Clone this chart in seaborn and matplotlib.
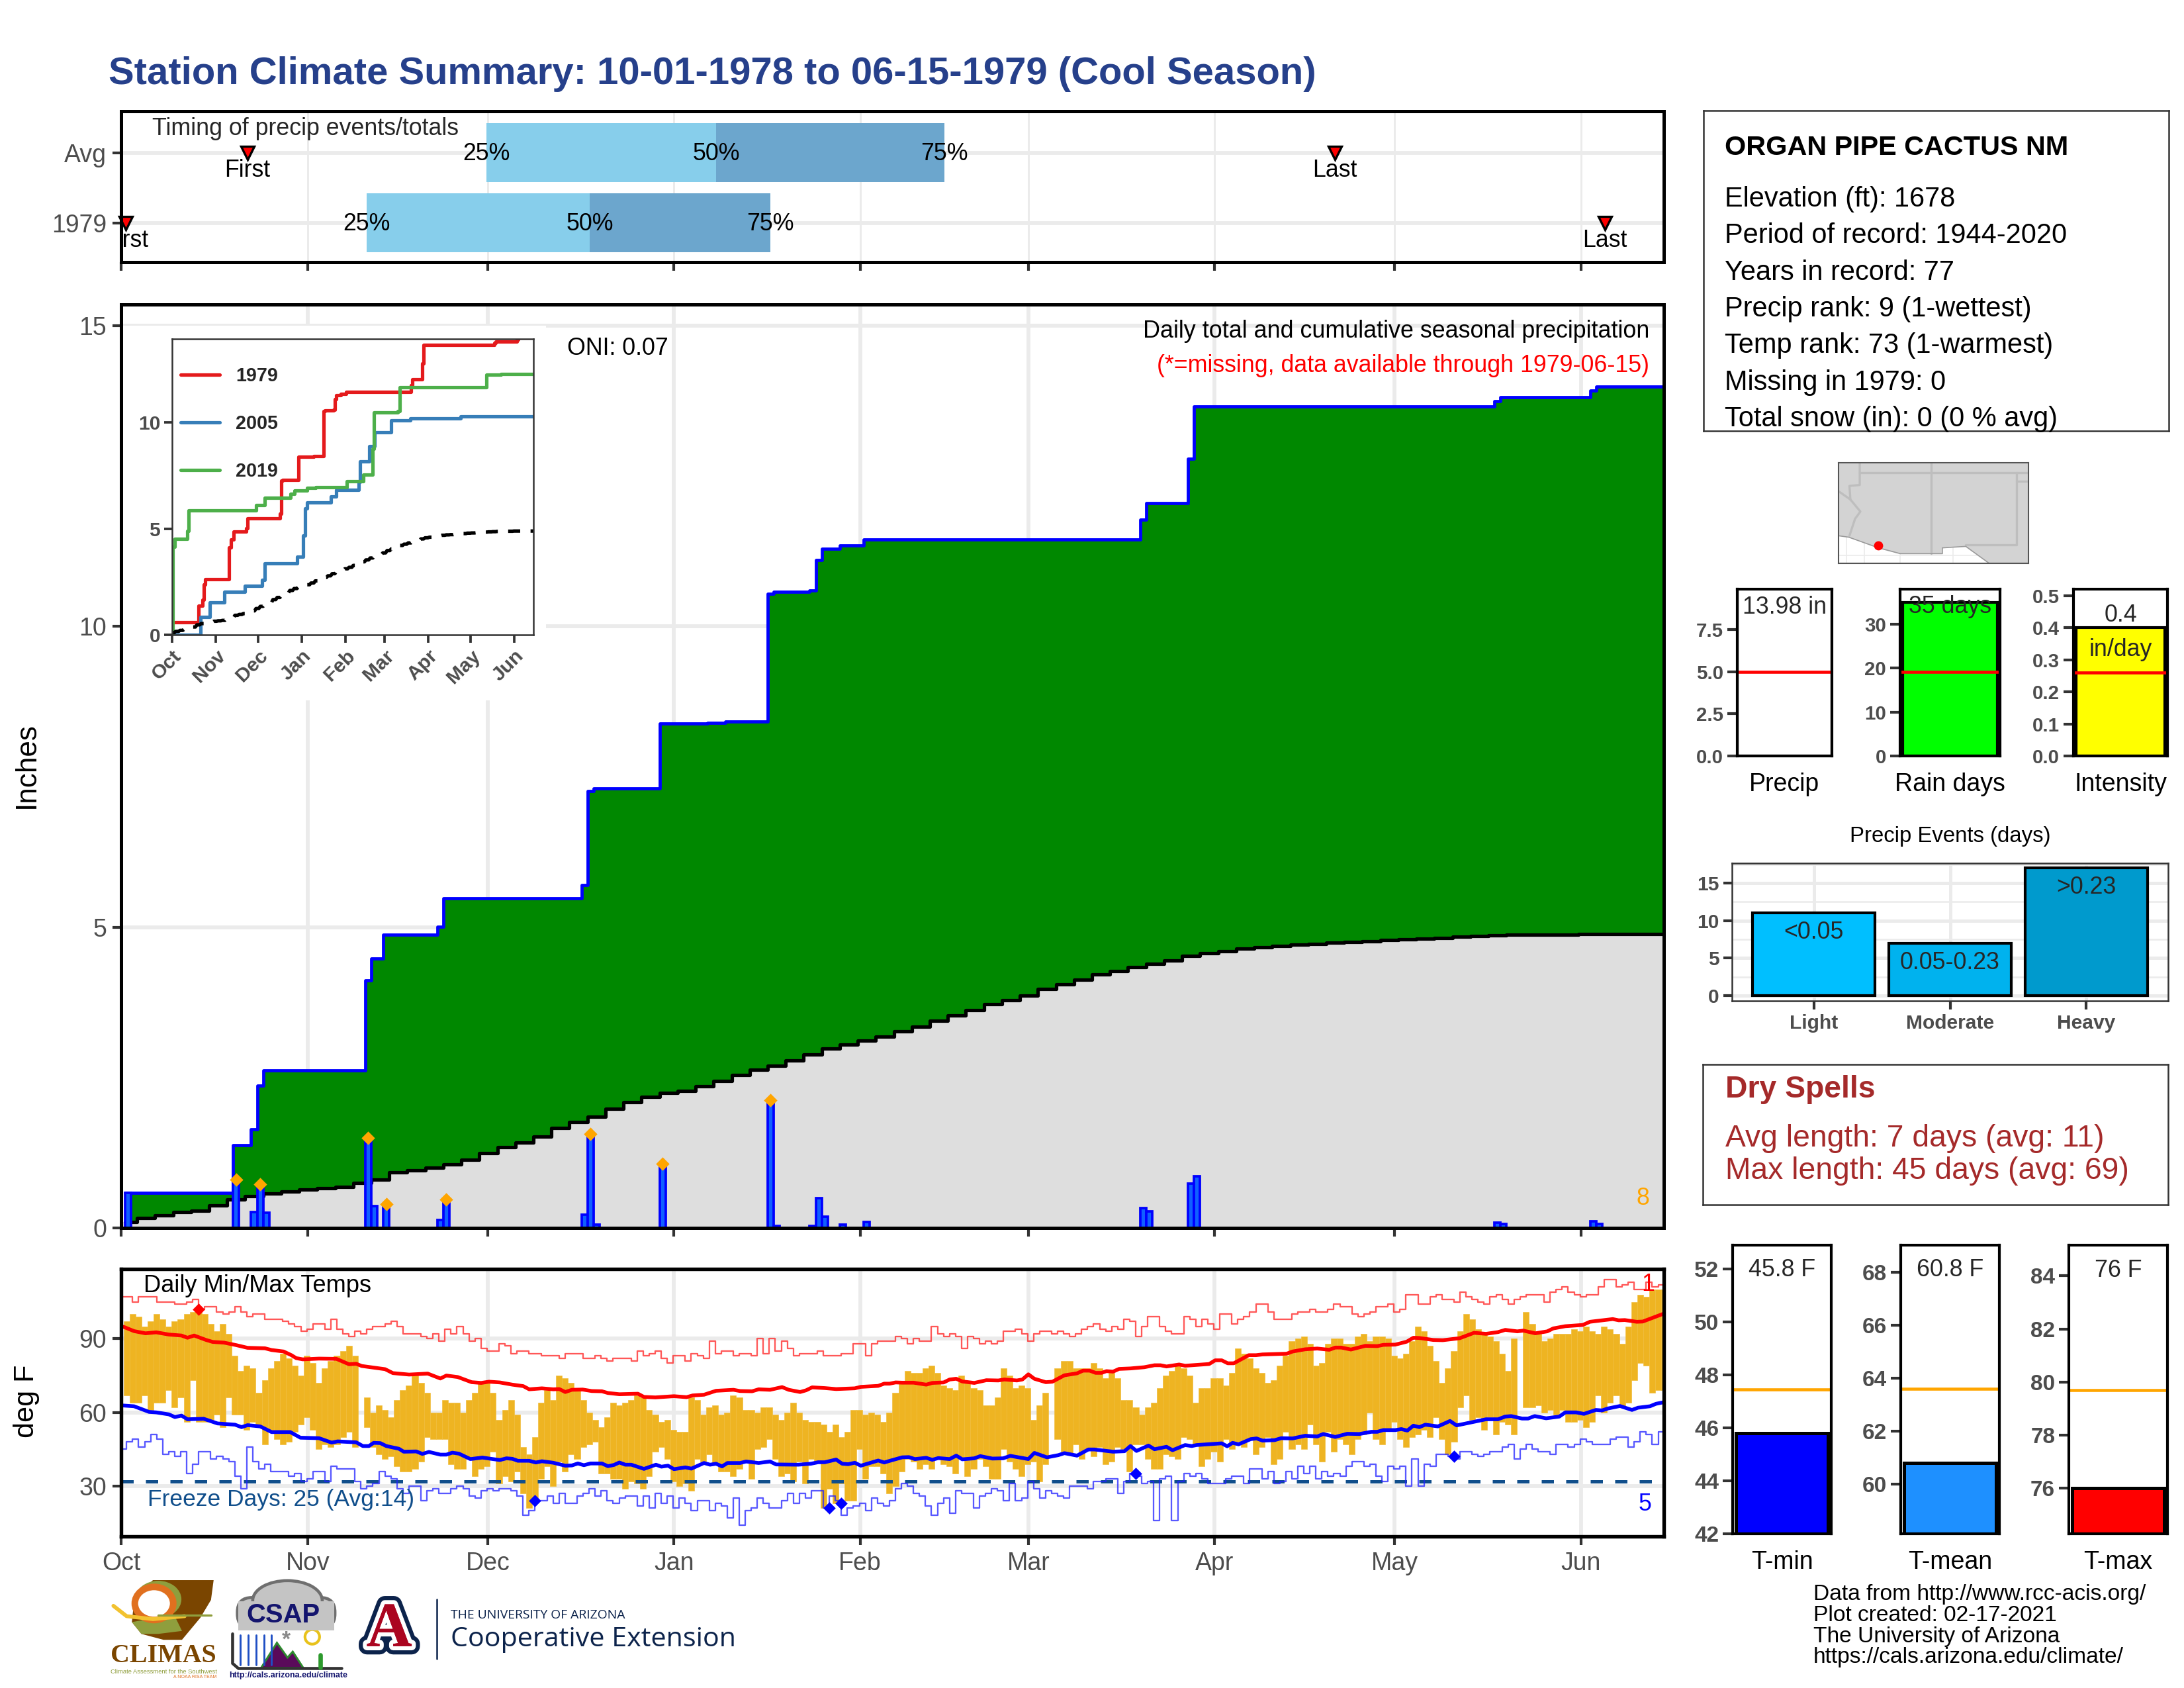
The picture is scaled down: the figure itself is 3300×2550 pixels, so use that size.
import numpy as np
import pandas as pd
import matplotlib
matplotlib.use("Agg")
import matplotlib.pyplot as plt
import matplotlib.patheffects as pe
from matplotlib.patches import Polygon, Rectangle, Ellipse, FancyBboxPatch, Circle
import seaborn as sns

nan = np.nan
W, H = 3300, 2550

# ---------- data ----------
month_names = ["Oct", "Nov", "Dec", "Jan", "Feb", "Mar", "Apr", "May", "Jun"]
month_days = [0, 31, 61, 92, 123, 151, 182, 212, 243]

timing_rows = ["Avg", "1979"]
q25 = [60.8, 40.8]
q50 = [99, 78]
q75 = [137, 108]
first_day = [21, 0.7]
last_day = [202, 247]

rain_day = [1, 19, 22, 23, 24, 41, 42, 44, 53, 54, 77, 78, 79, 90, 98, 101, 108, 109, 115, 116, 117, 120, 124,
            170, 171, 178, 179, 229, 230, 245, 246]
rain_amt = [.58, .80, .26, .73, .25, 1.50, .36, .40, .13, .47, .22, 1.56, .05, 1.07, .02, .02, 2.12, .03, .03, .50, .19, .05, .10,
            .33, .28, .74, .86, .09, .07, .11, .07]
big_day = [19, 23, 41, 44, 54, 78, 90, 108]

avg_cum = [.10, .16, .21, .26, .29, .37, .47, .53, .57, .60, .64, .66, .68, .75, .80, .92, .96, 1.00, 1.06, 1.13,
           1.24, 1.34, 1.42, 1.52, 1.66, 1.76, 1.85, 1.98, 2.09, 2.18, 2.24, 2.28, 2.36, 2.44, 2.54, 2.63, 2.70, 2.78, 2.88, 2.98,
           3.05, 3.11, 3.18, 3.27, 3.34, 3.44, 3.53, 3.62, 3.72, 3.78, 3.86, 3.97, 4.05, 4.13, 4.21, 4.27, 4.33, 4.39, 4.44, 4.52,
           4.57, 4.60, 4.64, 4.67, 4.69, 4.71, 4.72, 4.74, 4.75, 4.77, 4.79, 4.80, 4.81, 4.82, 4.84, 4.85, 4.86, 4.87, 4.87, 4.88,
           4.88, 4.89, 4.89, 4.89, 4.89, 4.89]

y2005_day = [0, 20, 26.7, 37, 51.6, 64, 65.7, 88.8, 93, 94.5, 95.7, 112.8, 116.7, 132.6, 133.5, 140, 143.7, 155.7, 169, 205, 257]
y2005_val = [0, .84, 1.54, 2.03, 2.31, 2.6, 3.38, 3.68, 4.68, 5.97, 6.23, 6.52, 6.83, 7.2, 8.17, 8.88, 9.55, 10.1, 10.19, 10.28, 10.28]
y2019_day = [0, .6, 1.8, 10.8, 11.7, 59.7, 65.7, 84.3, 86.7, 95.7, 102, 124, 135.6, 142.2, 143.4, 160, 161.4, 223, 233.7, 257]
y2019_val = [0, 4.16, 4.53, 4.9, 5.87, 6.1, 6.46, 6.65, 6.81, 6.93, 6.96, 7.25, 7.56, 8.75, 10.48, 10.53, 11.65, 12.27, 12.3, 12.3]

tmax = [97,100,99,95,97,100,98,95,97,98, 100,101,101,100,96,93,96,92,83,77, 79,78,68,73,78,81,84,82,79,75,
        83,80,72,78,81,83,85,87,83,nan, 66,60,63,61,58,65,69,71,75,72, 68,60,60,65,64,64,60,65,68,72,
        72,68,57,61,65,59,46,43,50,64, 69,65,75,74,72,69,65,60,57,54, 58,64,63,64,65,67,66,61,59,56,
        57,53,52,52,66,65,59,62,63,59, 60,67,66,61,61,60,62,62,59,57, 60,64,60,57,56,56,55,52,55,50,
        52,61,61,59,60,59,56,60,68,72, 77,76,76,78,79,76,71,70,69,75, 72,70,69,63,63,66,78,75,70,71,
        70,57,63,68,nan,78,81,81,78,78, 78,80,78,74,76,74,65,65,62,59, 62,64,70,75,77,79,78,75,64,70,
        70,74,74,71,76,86,84,82,78,76, 72,73,79,83,89,90,91,88,79,80, 88,90,90,88,88,91,92,89,91,91,
        90,83,82,84,89,95,93,87,81,72, 78,85,93,100,98,94,92,91,89,84, 77,90,nan,101,96,92,89,90,92,92,
        92,94,93,95,93,92,95,94,92,88, 95,105,108,107,110,110,110]
tmin = [67,64,64,67,61,64,64,69,62,66, 56,73,56,56,57,59,54,66,59,59, 53,56,54,47,52,49,47,48,52,55,
        58,53,45,47,46,47,50,52,46,nan, 54,46,43,41,42,38,36,36,37,40, 50,49,49,49,39,37,37,41,34,37,
        38,44,31,34,32,36,27,21,25,33, 38,30,40,36,43,41,46,47,48,35, 35,33,33,29,32,31,29,34,44,46,
        41,32,30,31,28,41,40,43,39,36, 36,34,37,40,33,45,46,49,41,34, 35,32,40,31,41,40,21,29,23,31,
        24,24,45,33,38,38,35,27,30,36, 41,40,37,39,37,41,39,38,35,41, 34,37,41,38,33,33,45,40,37,34,
        39,40,32,39,nan,49,44,43,47,41, 45,42,46,39,40,46,45,36,47,47, 41,37,37,43,42,41,50,49,47,38,
        41,44,40,49,45,48,46,49,43,46, 50,39,41,52,45,47,45,55,47,40, 52,44,49,47,43,49,51,60,49,47,
        53,56,49,46,50,51,53,50,58,49, 43,48,62,67,57,58,53,58,51,56, 55,51,nan,62,62,63,60,61,59,61,
        56,56,57,54,56,67,60,64,67,62, 64,73,80,79,68,69,69]

rec_max = [107,107,105,107,107,107,105,105,105,104, 104,105,106,102,103,103,101,100,101,103, 101,99,100,100,98,98,98,97,96,95,
           93,94,96,96,94,98,94,92,91,93, 92,94,95,95,96,97,95,92,92,92, 91,90,92,89,94,92,95,92,89,90, 86,85,85,88,87,
           84,85,85,84,84,83,83,83,82,84, 84,84,82,82,83,82,81,82,82,82, 81,85,83,84,85,82,80,83,83,81,
           84,83,82,89,84,85,85,83,84,84, 83,90,84,90,85,89,86,83,84,84, 84,85,83,83,83,84,84,88,88,83, 88,89,89,89,91,
           90,88,90,89,89,95,92,91,92,91, 86,91,90,88,89,88,89,93,93,94, 92,89,92,93,93,92,93,92,91,92,
           94,95,96,94,93,95,94,98,97,91, 95,99,99,95,93,92,92,99,98,95, 98,96,94,100,100,96,98,99,101,104, 104,101,98,98,98,
           100,101,101,102,101,101,102,104,103,103, 100,99,100,101,103,103,104,101,102,108, 108,104,104,107,108,106,106,105,109,107,
           106,105,104,107,108,106,104,106,107,108, 108,108,105,109,110,111,109,108,107,108, 108,111,114,114,111,112,113,110,110,113, 111,112,112]
rec_min = [45,48,49,46,48,51,49,43,44,42, 44,35,39,44,44,41,42,41,40,34, 29,46,40,37,39,36,36,36,34,35,
           32,33,36,36,32,38,37,37,37,32, 29,30,31,36,34,33,29,27,30,30, 24,28,29,27,27,29,30,29,26,25, 28,29,28,29,29,
           28,26,18,20,24,24,26,23,27,23, 23,26,27,29,26,28,24,23,25,26, 26,22,26,21,27,23,26,21,25,23,
           20,24,24,20,23,22,17,25,14,20, 21,25,23,21,21,24,27,23,27,25, 28,28,21,26,24,18,21,22,23,20, 25,23,22,24,29,
           31,30,27,26,22,18,23,25,19,28, 27,27,21,26,27,29,28,24,31,24, 25,32,29,25,28,27,26,25,30,30,
           30,29,32,32,33,33,27,32,35,34, 31,32,16,33,34,16,32,35,34,35, 33,31,31,31,33,34,34,31,37,37, 33,36,31,32,36,
           33,38,35,38,33,36,34,35,34,38, 40,40,38,39,34,32,38,37,38,30, 41,30,39,38,43,43,42,41,44,44,
           43,42,43,44,44,46,47,41,45,47, 45,44,44,43,47,47,46,47,49,48, 47,47,47,49,50,50,46,48,52,51, 47,52,52]

avg_max_day = [.3,2.1,4,5.8,7.9,10,11,12.1,14.1,15.2,17.1,19.1,21,23.9,25,27,28.3,29.1,30.2,32.9,35.8,37.9,39.1,40,43.9,45.2,47.9,51,53.1,54.1,56,58.3,59.9,61.2,63,65.1,
               66.9,67.9,70,71.9,72.9,73.9,75,76.8,78.3,80,81,82.9,86,87,88.9,92,94.1,95.1,97,99,101.9,103,105,106.1,108,110,111.1,113,114,115,117.1,119,122.1,123.1,126,127,127.9,128.9,130,
               131.9,134,135,136.9,137.9,139,140,142,144,146,147,149.1,150,151,152,153.9,155,157,159.1,160.1,161.2,162.2,163.2,164,165.1,166.1,168,170.3,172,173,174,176.1,177.1,181.1,182.1,183.2,184.2,185.2,187.7,188.9,190,194,195,
               197.1,199.1,201.1,202.1,203.1,204.7,207.1,209.1,210.1,212.1,214,215.1,216.1,218.4,220,222.8,225.2,227.2,229.2,230.4,232.4,233.4,235.4,237.4,238.4,240.4,243.3,244.5,248.3,249.3,250.3,252.3,253.3,257.1]
avg_max_val = [94.9,93.1,92.2,92.6,91.7,91.3,90.4,91.3,89.5,88.7,88.4,87.4,86.3,86.1,85.4,84.8,83.3,82.1,81.6,81.9,81.8,79.6,79.8,78.9,77.6,76,75.4,75.8,73.8,75,74.4,72.3,72,72.5,72.2,71.3,
               70.7,69.4,69.8,69.4,69.5,68.3,69.2,69.3,68.7,68.6,67.9,67.4,67.6,66.3,66.1,66.6,66.2,66.9,67.2,68.8,69.2,68.7,68.6,69.4,69.2,70.3,69.2,68.3,69,70.2,69.9,69.5,69.8,70.4,70.8,71.7,71.7,72.2,72.1,
               72.1,71.3,72,72.2,73.4,73.7,72.6,72,73.1,73,73.4,73,73.4,75.5,73.7,72.3,72.5,75.1,75.9,77,77,76.1,76.1,76.8,76.6,77.7,77.9,78.4,79.2,79.2,78.7,79.5,79,79.7,81.2,81.2,80,80,83.3,83.3,83.6,83.9,84.8,
               85.7,86,85.5,86.4,86.4,85.6,87.1,87,87.5,87.6,88.8,90.4,90.3,89.5,89.4,90.2,92.4,92,92.7,93.6,93,93.3,92.2,93,94.2,95.1,95.6,96.9,98,97.5,97.6,96.9,97,100.5]
avg_min_day = [.3,2.1,4.6,5.8,7.9,8.9,10,11,13.7,16,18.9,20,21,23.1,25,28.1,29.8,32.9,35,36,39.1,40.2,41.2,42,43.1,44.1,46.2,47,49.1,50.1,51.2,53.1,54.1,55.1,56.2,58.1,60.1,63,64.1,65.1,
               66,67.9,69,70,71.9,73.9,75,76,77,78.1,80,81,82,82.9,83.9,84.9,87,89,89.9,91,92,93.9,94.9,97,98,99,100,100.9,103,104,106.1,108,109,112.7,114.8,116,117.1,119,120,121,122.1,123.1,126,127,128.1,130,
               131.1,132.1,134,135,136,137.9,139,140,142,143,145,146.8,148,151,152,154.1,156,157,159.1,161,162,165.1,167,168,169,171,172,174,175,177.1,178.2,179,183.2,184.1,185,186,188,189,190,192,193.1,195,
               197.1,199.1,200.1,202.1,204.1,206.1,208.1,209.1,210.1,212.1,213.1,214.1,215.1,216.1,217.1,219.2,221.2,222.3,227.2,229.2,230.4,231.4,233.2,234.2,235.3,237.2,239.4,240.4,242.2,243.5,245.5,246.5,247.5,249.5,251.5,252.5,254.5,255.5,257.1]
avg_min_val = [62.8,62.5,60.2,60,59.2,58.1,58.7,57.2,57.4,55.5,55,54,54.8,54.3,52,52,49.7,49.5,47.7,48.2,47.8,46.3,46.3,47.6,47.5,46.3,45.2,44,44.1,43.1,43.9,42.8,42.8,43.6,43.2,41,41.6,40.6,41.3,41.1,
               40.3,40.3,39.6,40.1,39.5,38.3,38.4,39.2,38.5,39.2,39.2,38.1,38.6,39.6,38.7,38.7,37,38.7,37.9,38.3,36.9,37.6,37.1,39.4,38.7,39.1,38,39.4,39.4,40,39.4,40,38.8,38.7,39.1,39.7,39.7,40.8,39.1,38.9,39.5,38.3,40.4,39.6,40.4,41.7,
               41.8,41,41.5,40.7,41.4,41,42.4,40.9,41.3,42.2,41.2,41.3,42.3,41,43.5,41.7,42.6,43.4,42.4,44.9,44.9,44,44.2,46.3,44.3,46.5,45,46,44.6,46.7,46.3,46.7,47.4,46.2,47.6,47,49.1,49.4,48.5,48.7,49.5,49.4,
               50.5,50.2,51.2,50,51.3,51.2,52.1,52.1,52.8,52.8,53.2,52.6,54.6,54,55,54.3,56.5,54.7,57.2,57.2,58.3,58.5,57.5,57.5,58.5,57.6,58.3,60,60,59.4,61,60.8,61.6,62.6,61,61.9,62.5,63.5,64.3]
hot_idx = [12]
hot_val = [102]
cold_idx = [68, 117, 119, 168, 221]
cold_val = [24, 21, 23, 35, 42]

event_cats = ["Light", "Moderate", "Heavy"]
event_vals = [11, 7, 17]
event_labels = ["<0.05", "0.05-0.23", ">0.23"]
event_colors = ["#00bfff", "#00b2ee", "#009acd"]

info_lines = ["Elevation (ft): 1678", "Period of record: 1944-2020", "Years in record: 77",
              "Precip rank: 9 (1-wettest)", "Temp rank: 73 (1-warmest)", "Missing in 1979: 0", "Total snow (in): 0 (0 % avg)"]

# ---------- theme ----------
sns.set_theme(style="white")
plt.rcParams["font.family"] = ["Liberation Sans", "DejaVu Sans"]
plt.rcParams["axes.unicode_minus"] = False
GRID = "#ebebeb"
TICKC = "#4d4d4d"
GRIDLW = 1.4

fig = plt.figure(figsize=(11, 8.5), dpi=300, facecolor="white")


def axpx(l, t, r, b, **kw):
    t, b = t + 2, b + 2
    return fig.add_axes([l / W, 1 - b / H, (r - l) / W, (b - t) / H], **kw)


def T(x, y, s, **kw):
    kw.setdefault("va", "center")
    kw.setdefault("ha", "left")
    kw.setdefault("color", "black")
    kw.setdefault("fontsize", 8)
    return fig.text(x / W, 1 - (y + 4) / H, s, **kw)


def frame(ax, lw=1.2, color="black"):
    for s in ax.spines.values():
        s.set_visible(True)
        s.set_linewidth(lw)
        s.set_edgecolor(color)
        s.set_zorder(10)


XL = (-0.05, 256.8)


def month_axis(ax, labels=False):
    ax.set_xlim(*XL)
    ax.set_xticks(month_days)
    ax.set_xticklabels(month_names if labels else [])
    ax.tick_params(axis="x", length=3.2, width=1.0, color="#333333", labelsize=9, labelcolor=TICKC, pad=2.2, bottom=True)
    ax.tick_params(axis="y", length=3.2, width=1.0, color="#333333", labelsize=9, labelcolor=TICKC, pad=2, left=True)
    ax.grid(True, color=GRID, lw=GRIDLW)
    ax.set_axisbelow(True)
    ax.set_xlabel("")
    ax.set_ylabel("")


T(164, 108, "Station Climate Summary: 10-01-1978 to 06-15-1979 (Cool Season)", fontsize=13.93, fontweight="bold", color="#26408b")

# ---------- timing panel ----------
ax = axpx(183, 166, 2514, 394)
month_axis(ax)
ax.set_ylim(1.557, -0.594)
ax.set_yticks([0, 1])
ax.set_yticklabels(timing_rows)
ax.grid(True, color=GRID, lw=0.7, axis="x")
ax.grid(True, color=GRID, lw=GRIDLW, axis="y")
ypos = np.arange(2)
ax.barh(ypos, np.array(q50) - np.array(q25), left=q25, height=.84, color="#87ceeb", lw=0, zorder=2)
ax.barh(ypos, np.array(q75) - np.array(q50), left=q50, height=.84, color="#6ca6cd", lw=0, zorder=2)
for i in ypos:
    for q, lab in zip((q25[i], q50[i], q75[i]), ("25%", "50%", "75%")):
        ax.text(q, i + .01, lab, ha="center", va="center", fontsize=8.6, color="black", zorder=4)
    for d, lab in zip((first_day[i], last_day[i]), ("First", "Last")):
        ax.plot([d], [i], marker="v", ms=5, mfc="red", mec="black", mew=.8, ls="", zorder=5, clip_on=False)
        ax.text(d, i + .25, lab, ha="center", va="center", fontsize=8.6, color="black", clip_on=True, zorder=5)
ax.text(5.1, -.34, "Timing of precip events/totals", ha="left", va="center", fontsize=8.6)
frame(ax, 1.2)

# ---------- main precip panel ----------
ax = axpx(183, 458, 2514, 1853)
month_axis(ax)
ax.set_ylim(0, 15.35)
ax.set_yticks([0, 5, 10, 15])
grid_days = np.arange(258)
avg_daily = np.repeat(avg_cum, 3)[:258]
avg_daily = np.concatenate([avg_daily, np.full(258 - len(avg_daily), avg_cum[-1])])
daily = np.zeros(258)
daily[rain_day] = rain_amt
cum = np.cumsum(daily)
xbar = grid_days + 0.1
xstep = grid_days - 0.4
ax.add_patch(Rectangle((183 / W, 1 - 1058 / H), (825 - 183) / W, (1058 - 492) / H, transform=fig.transFigure,
                       fc="white", ec="none", zorder=0.9))
ax.fill_between(xstep, 0, avg_daily, step="post", color="#dedede", lw=0, zorder=1)
ax.fill_between(xstep, avg_daily, cum, where=cum >= avg_daily, step="post", color="#008800", lw=0, zorder=1.2)
sns.lineplot(x=xstep[1:], y=cum[1:], ax=ax, color="#0000ff", lw=1.15, drawstyle="steps-post", estimator=None, sort=False, zorder=3)
sns.lineplot(x=xstep[1:], y=avg_daily[1:], ax=ax, color="black", lw=1.25, drawstyle="steps-post", estimator=None, sort=False, zorder=2.6)
rain_arr = np.array(rain_amt)
shown = rain_arr >= .025
ax.bar(np.array(rain_day)[shown] + .1, rain_arr[shown], width=1.0, color="#1060ff", edgecolor="#0000ff", lw=.9, zorder=4)
ax.scatter(np.array(big_day) + .1, [rain_amt[rain_day.index(d)] for d in big_day], marker="D", s=12, color="orange", lw=0, zorder=5)
ax.set_xlabel("")
ax.set_ylabel("")
ax.set_ylim(0, 15.35)
frame(ax, 1.2)
T(2492, 497, "Daily total and cumulative seasonal precipitation", ha="right", fontsize=8.62)
T(2492, 549, "(*=missing, data available through 1979-06-15)", ha="right", fontsize=8.6, color="red")
T(857, 522, "ONI: 0.07", fontsize=8.6)
T(2482, 1806, "8", ha="center", fontsize=8.6, color="orange")
T(40, 1152, "Inches", ha="center", rotation=90, fontsize=10.6)
T(40, 2113, "deg F", ha="center", rotation=90, fontsize=10.4)

# ---------- inset ----------
axi = axpx(260, 510, 806, 957)
axi.set_facecolor("white")
sns.lineplot(x=xstep[1:], y=cum[1:], ax=axi, color="#e41a1c", lw=1.25, drawstyle="steps-post", estimator=None, sort=False, label="1979")
sns.lineplot(x=y2005_day, y=y2005_val, ax=axi, color="#377eb8", lw=1.25, drawstyle="steps-post", estimator=None, sort=False, label="2005")
sns.lineplot(x=y2019_day, y=y2019_val, ax=axi, color="#4daf4a", lw=1.25, drawstyle="steps-post", estimator=None, sort=False, label="2019")
sns.lineplot(x=xstep[1:], y=avg_daily[1:], ax=axi, color="black", lw=1.25, ls=(0, (3.5, 3)), estimator=None, sort=False)
axi.set_xlim(0, 256.5)
axi.set_ylim(0, 13.94)
axi.set_xticks(month_days)
axi.set_xticklabels(month_names, rotation=45, ha="right", rotation_mode="anchor", fontweight="bold", fontsize=7.2, color=TICKC)
axi.set_yticks([0, 5, 10])
axi.set_yticklabels(["0", "5", "10"], fontweight="bold", fontsize=7.2, color=TICKC)
axi.tick_params(length=2.8, width=.9, color="#333333", pad=1.5, left=True, bottom=True)
axi.set_xlabel("")
axi.set_ylabel("")
frame(axi, .6, "#333333")
leg = axi.legend(loc="upper left", bbox_to_anchor=(.024, .905), frameon=False, labelspacing=1.53,
                 handlelength=2.05, handletextpad=.84, borderaxespad=0, borderpad=0, prop={"weight": "bold", "size": 6.9})

# ---------- temperature panel ----------
ax = axpx(183, 1915, 2514, 2319)
month_axis(ax, labels=True)
ax.set_ylim(9.5, 118.4)
ax.set_yticks([30, 60, 90])
tx = np.arange(len(tmax)) + .87
tlow = np.array(tmin, float)
thigh = np.array(tmax, float)
ax.bar(tx, thigh - tlow, bottom=tlow, width=1.0, color="#eeb422", edgecolor="#f0bc3a", lw=.15, zorder=2)
ax.axhline(32, color="#104e8b", lw=1.2, ls=(0, (3.7, 3.7)), zorder=3)
rx = np.arange(len(rec_max)) - .13
sns.lineplot(x=rx, y=rec_max, ax=ax, color="#ff2020", alpha=.75, lw=.55, drawstyle="steps-post", estimator=None, sort=False, zorder=3)
sns.lineplot(x=rx, y=rec_min, ax=ax, color="#2020ff", alpha=.75, lw=.55, drawstyle="steps-post", estimator=None, sort=False, zorder=3)
sns.lineplot(x=avg_max_day, y=avg_max_val, ax=ax, color="#ff0000", lw=1.35, estimator=None, sort=False, zorder=4)
sns.lineplot(x=avg_min_day, y=avg_min_val, ax=ax, color="#0000ff", lw=1.35, estimator=None, sort=False, zorder=4)
ax.scatter(np.array(hot_idx) + .87, hot_val, marker="D", s=10, color="red", lw=0, zorder=5)
ax.scatter(np.array(cold_idx) + .87, cold_val, marker="D", s=10, color="blue", lw=0, zorder=5)
ax.set_xlabel("")
ax.set_ylabel("")
ax.set_xlim(*XL)
ax.set_ylim(9.5, 118.4)
frame(ax, 1.3)
T(217, 1939, "Daily Min/Max Temps", fontsize=8.7)
T(223, 2261, "Freeze Days: 25 (Avg:14)", fontsize=8.5, color="#104e8b")
T(2486, 2269, "5", ha="center", fontsize=8.6, color="blue")
T(2490, 1936, "1", ha="center", fontsize=8.6, color="red")

# ---------- info box ----------
axb = axpx(2574, 165, 3277, 649)
axb.set_xticks([]); axb.set_yticks([])
frame(axb, .6, "#333333")
T(2606, 219, "ORGAN PIPE CACTUS NM", fontsize=9.95, fontweight="bold")
for i, s in enumerate(info_lines):
    T(2606, 297 + 55.3 * i, s, fontsize=9.97)

# ---------- locator map ----------
axm = axpx(2778, 697, 3065, 849)
axm.set_xlim(462, 1071)
axm.set_ylim(232, 24)
axm.set_xticks([]); axm.set_yticks([])
for gx in (488, 545, 660, 830, 945):
    axm.axvline(gx, color="#ebebeb", lw=.4, zorder=0)
axm.axhline(215, color="#ebebeb", lw=.4, zorder=0)
land_x = [462, 495, 590, 660, 795, 795, 870, 945, 1071, 1071, 462]
land_y = [175, 178, 200, 212, 212, 200, 197, 232, 232, 24, 24]
axm.add_patch(Polygon(np.column_stack([land_x, land_y]), fc="#d3d3d3", ec="none", zorder=1))
state_lines = [
    ([530, 530, 497, 500, 532, 515, 497], [24, 70, 72, 100, 125, 140, 175]),
    ([462, 500], [83, 100]),
    ([530, 1071], [45, 45]),
    ([760, 760], [24, 212]),
    ([1033, 1033, 870], [45, 193, 193]),
    ([1033, 1071], [62, 62]),
]
for sx, sy in state_lines:
    axm.plot(sx, sy, color="#bebebe", lw=.8, zorder=2)
axm.plot(land_x[:8], land_y[:8], color="#9a9a9a", lw=.4, zorder=2)
axm.scatter([589], [195], s=11, color="red", lw=0, zorder=3)
frame(axm, .5, "#555555")


# ---------- small bar panels ----------
def single_bar(box, label, value, ylim, ticks, ticklabels, color, ref, refcolor, text_items, tickfs=7.1, width=.95, barlw=1.0):
    a = axpx(*box)
    sns.barplot(x=[label], y=[value], ax=a, color=color, width=width, edgecolor="black", linewidth=barlw, saturation=1, zorder=2)
    a.set_xlim(-.5, .5)
    a.set_ylim(*ylim)
    a.set_yticks(ticks)
    a.set_yticklabels(ticklabels, fontweight="bold", fontsize=tickfs, color=TICKC)
    a.set_xticks([0])
    a.set_xticklabels([label], fontsize=9, color="black")
    a.tick_params(axis="x", length=0, pad=6, bottom=False)
    a.tick_params(axis="y", length=3.5, width=1.0, color="#333333", pad=1.5, left=True)
    a.axhline(ref, color=refcolor, lw=1.1, zorder=3)
    a.set_xlabel("")
    a.set_ylabel("")
    for (s, yy) in text_items:
        a.text(0, yy, s, ha="center", va="center", fontsize=8.6, zorder=4)
    frame(a, 1.0)
    return a


single_bar((2625, 888, 2768, 1140), "Precip", 13.98, (0, 9.9), [0, 2.5, 5, 7.5], ["0.0", "2.5", "5.0", "7.5"],
           "white", 5.0, "red", [("13.98 in", 8.8)], width=1.0)
single_bar((2871, 888, 3022, 1140), "Rain days", 35, (0, 38), [0, 10, 20, 30], ["0", "10", "20", "30"],
           "#00ff00", 19.2, "red", [("35 days", 34.0)])
single_bar((3133, 888, 3275, 1140), "Intensity", .4, (0, .52), [0, .1, .2, .3, .4, .5], ["0.0", "0.1", "0.2", "0.3", "0.4", "0.5"],
           "#ffff00", .26, "red", [("0.4", .438), ("in/day", .332)])

# ---------- events panel ----------
axe = axpx(2617, 1302, 3276, 1510)
sns.barplot(x=event_cats, y=event_vals, hue=event_cats, ax=axe, palette=event_colors, width=.9, edgecolor="black", linewidth=1.0,
            saturation=1, legend=False, zorder=2)
axe.set_xlim(-.6, 2.6)
axe.set_ylim(-.7, 17.66)
axe.set_yticks([0, 5, 10, 15])
axe.set_yticklabels(["0", "5", "10", "15"], fontweight="bold", fontsize=7.2, color=TICKC)
axe.set_xticks([0, 1, 2])
axe.set_xticklabels(event_cats, fontweight="bold", fontsize=7.2, color=TICKC)
axe.tick_params(length=3.2, width=1.0, color="#333333", pad=1.5, left=True, bottom=True)
axe.yaxis.set_minor_locator(matplotlib.ticker.MultipleLocator(2.5))
axe.grid(True, which="major", color=GRID, lw=1.2)
axe.grid(True, which="minor", axis="y", color=GRID, lw=.6)
axe.tick_params(which="minor", length=0)
axe.set_axisbelow(True)
axe.set_xlabel("")
axe.set_ylabel("")
for i, (v, s) in enumerate(zip(event_vals, event_labels)):
    axe.text(i, v - 2.6, s, ha="center", va="center", fontsize=8.6, zorder=4)
frame(axe, .6, "#333333")
T(2947, 1259, "Precip Events (days)", ha="center", fontsize=7.9)

# ---------- dry spells ----------
axd = axpx(2573, 1606, 3276, 1818)
axd.set_xticks([]); axd.set_yticks([])
frame(axd, .6, "#333333")
T(2607, 1642, "Dry Spells", fontsize=11.1, fontweight="bold", color="#a52a2a")
T(2607, 1716, "Avg length: 7 days (avg: 11)", fontsize=11.1, color="#a52a2a")
T(2607, 1765, "Max length: 45 days (avg: 69)", fontsize=11.1, color="#a52a2a")

# ---------- temperature bars ----------
single_bar((2618, 1879, 2767, 2315), "T-min", 45.8, (42, 52.9), [42, 44, 46, 48, 50, 52], ["42", "44", "46", "48", "50", "52"],
           "#0000ff", 47.46, "orange", [("45.8 F", 51.95)], tickfs=8, width=.93, barlw=1.2)
single_bar((2872, 1879, 3021, 2315), "T-mean", 60.8, (58.125, 69.03), [60, 62, 64, 66, 68], ["60", "62", "64", "66", "68"],
           "#1e90ff", 63.6, "orange", [("60.8 F", 68.08)], tickfs=8, width=.93, barlw=1.2)
single_bar((3126, 1879, 3275, 2315), "T-max", 76, (74.27, 85.16), [76, 78, 80, 82, 84], ["76", "78", "80", "82", "84"],
           "#ff0000", 79.7, "orange", [("76 F", 84.21)], tickfs=8, width=.93, barlw=1.2)

for i, s in enumerate(["Data from http://www.rcc-acis.org/", "Plot created: 02-17-2021", "The University of Arizona", "https://cals.arizona.edu/climate/"]):
    T(2740, 2405 + 31.5 * i, s, fontsize=8.04)

# ---------- logos (simple drawn approximations) ----------
lg = fig.add_axes([0, 0, 1, 1], zorder=20)
lg.set_xlim(0, W); lg.set_ylim(H, 0); lg.axis("off"); lg.patch.set_alpha(0)


def zx(v):
    return np.asarray(v, float) * .797


def zy(v):
    return 1850 + np.asarray(v, float) * .4464


def zpoly(pts, **kw):
    p = np.array(pts, float)
    lg.add_patch(Polygon(np.column_stack([zx(p[:, 0]), zy(p[:, 1])]), **kw))


zpoly([(290, 1203), (405, 1203), (400, 1270), (380, 1330), (345, 1405), (310, 1405), (268, 1385), (250, 1345), (255, 1260)], fc="#7a4500", ec="none")
zpoly([(250, 1345), (330, 1320), (345, 1375), (300, 1385), (268, 1385)], fc="#8f9e3d", ec="none")
lg.add_patch(Ellipse((zx(300), zy(1268)), 70, 56, fc="#8f9e3d", ec="none"))
lg.add_patch(Ellipse((zx(292), zy(1282)), 58, 50, fc="white", ec="#e0701f", lw=2.4))
lg.plot(zx([215, 240, 290, 350]), zy([1290, 1325, 1335, 1325]), color="#f2c230", lw=1.4)
lg.plot(zx([300, 400]), zy([1322, 1322]), color="#8f9e3d", lw=.8)
lg.text(zx(310), zy(1460), "CLIMAS", ha="center", va="center", family="Liberation Serif", fontweight="bold", fontsize=9.6, color="#7a4500")
lg.text(zx(310), zy(1513), "Climate Assessment for the Southwest", ha="center", va="center", fontsize=2.25, color="#8f9e3d")
lg.text(zx(370), zy(1531), "A NOAA RISA TEAM", ha="center", va="center", fontsize=1.7, color="#e0701f")

lg.add_patch(FancyBboxPatch((zx(450), zy(1262)), zx(185), 0.4464 * 105, boxstyle="round,pad=0,rounding_size=22", fc="#c4c4c4", ec="#6f6f6f", lw=1.1))
lg.add_patch(Ellipse((zx(545), zy(1272)), 105, 60, fc="#c4c4c4", ec="#6f6f6f", lw=1.1, zorder=1.5))
lg.add_patch(Rectangle((zx(452), zy(1275)), zx(181), 44, fc="#c4c4c4", ec="none", zorder=1.6))
lg.text(zx(537), zy(1322), "CSAP", ha="center", va="center", fontweight="bold", fontsize=9.6, color="#14156e", zorder=3)
for bx in (455, 470, 485, 500, 515):
    lg.plot(zx([bx, bx]), zy([1388, 1490]), color="#1f4fc4", lw=.7)
lg.plot(zx([441, 441, 452, 648]), zy([1385, 1485, 1502, 1502]), color="#333333", lw=1.1)
zpoly([(495, 1500), (525, 1415), (545, 1465), (555, 1445), (575, 1500)], fc="#5a0a5a", ec="#2d8a2d", lw=.7)
lg.text(zx(543), zy(1408), "*", ha="center", va="center", fontsize=8, color="#8a8a8a", fontweight="bold")
lg.add_patch(Circle((zx(592), zy(1395)), 11, fc="none", ec="#e8c21a", lw=1.0))
lg.plot(zx([607, 607]), zy([1455, 1498]), color="#2d9a2d", lw=1.6)
lg.text(zx(547), zy(1525), "http://cals.arizona.edu/climate", ha="center", va="center", fontsize=3.0, fontweight="bold", color="#14156e")

lg.text(zx(738), zy(1375), "A", ha="center", va="center", family="Liberation Serif", fontweight="bold", fontsize=23, color="#ab0520",
        path_effects=[pe.withStroke(linewidth=6, foreground="#0c234b"), pe.withStroke(linewidth=3, foreground="white"), pe.Normal()])
lg.plot(zx([828, 828]), zy([1268, 1470]), color="#0c234b", lw=.6)
lg.text(zx(855), zy(1322), "THE UNIVERSITY OF ARIZONA", ha="left", va="center", fontsize=4.65, family="Open Sans", color="#0c234b")
lg.text(zx(855), zy(1405), "Cooperative Extension", ha="left", va="center", fontsize=9.9, family="Open Sans", color="#0c234b")

fig.savefig("out.png", dpi=300, facecolor="white")
